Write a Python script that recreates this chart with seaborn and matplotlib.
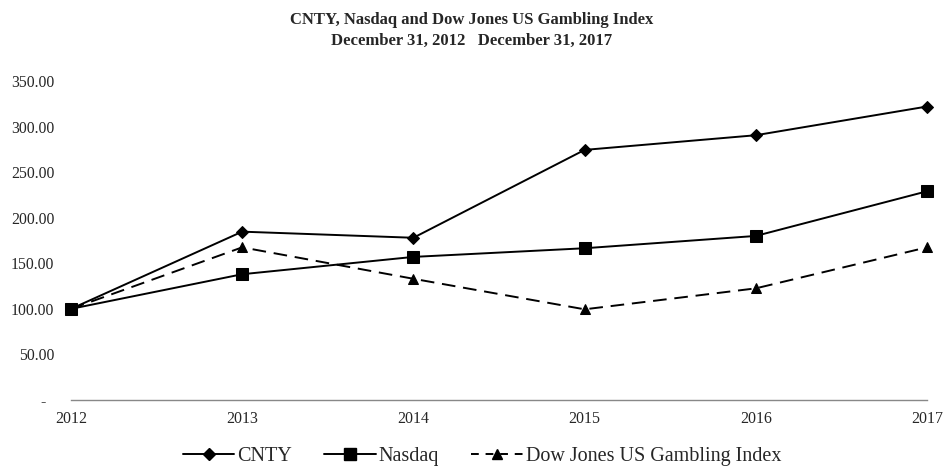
import matplotlib
matplotlib.use("Agg")
import matplotlib.pyplot as plt
import seaborn as sns
import pandas as pd
from matplotlib.lines import Line2D

years = [2012, 2013, 2014, 2015, 2016, 2017]
cnty = [100.0, 184.7, 178.0, 274.4, 290.5, 322.0]
nasdaq = [100.0, 138.0, 157.0, 166.5, 180.0, 229.0]
dow_gambling = [100.0, 167.5, 133.0, 99.5, 122.5, 167.5]
series_names = ["CNTY", "Nasdaq", "Dow Jones US Gambling Index"]
y_ticks = [0, 50, 100, 150, 200, 250, 300, 350]
y_tick_labels = ["-  ", "50.00", "100.00", "150.00", "200.00", "250.00", "300.00", "350.00"]

df = pd.DataFrame({
    "year": years * 3,
    "value": cnty + nasdaq + dow_gambling,
    "series": [series_names[0]] * 6 + [series_names[1]] * 6 + [series_names[2]] * 6,
})

sns.set_theme(style="white")
plt.rcParams["font.family"] = ["Liberation Serif", "DejaVu Serif"]

fig = plt.figure(figsize=(9.43, 4.68), dpi=100)
ax = fig.add_axes([71 / 943, 1 - 400 / 468, (927 - 71) / 943, (400 - 81) / 468])

markers = {series_names[0]: "D", series_names[1]: "s", series_names[2]: "^"}
msizes = {series_names[0]: 6, series_names[1]: 8, series_names[2]: 7.5}

for name in series_names:
    sub = df[df["series"] == name]
    is_dash = name == series_names[2]
    sns.lineplot(data=sub, x="year", y="value", ax=ax, color="black",
                 marker=markers[name], markersize=msizes[name],
                 markeredgecolor="black", markerfacecolor="black",
                 linewidth=1.4, legend=False,
                 linestyle=(0, (7, 4)) if is_dash else "-",
                 clip_on=False, zorder=3)

ax.set_xlim(2012, 2017)
ax.set_ylim(0, 350)
ax.set_xticks(years)
ax.set_xticklabels([str(y) for y in years], fontsize=11.5)
ax.set_yticks(y_ticks)
ax.set_yticklabels(y_tick_labels, fontsize=11.3)
ax.tick_params(axis="both", length=0)
ax.tick_params(axis="y", pad=12)
ax.tick_params(axis="x", pad=8)
ax.set_xlabel("")
ax.set_ylabel("")
for s in ["top", "right", "left"]:
    ax.spines[s].set_visible(False)
ax.spines["bottom"].set_color("#888888")
ax.spines["bottom"].set_linewidth(1.0)
ax.grid(False)

fig.text(0.5, 1 - 20 / 468, "CNTY, Nasdaq and Dow Jones US Gambling Index",
         ha="center", va="center", fontsize=12, fontweight="bold")
fig.text(0.5, 1 - 41 / 468, "December 31, 2012   December 31, 2017",
         ha="center", va="center", fontsize=12, fontweight="bold")

handles = [
    Line2D([], [], color="black", marker="D", markersize=6, linewidth=1.4),
    Line2D([], [], color="black", marker="s", markersize=8, linewidth=1.4),
    Line2D([], [], color="black", marker="^", markersize=7.5, linewidth=1.4, linestyle=(0, (4, 3.5))),
]
fig.legend(handles, series_names, loc="center", bbox_to_anchor=(482 / 943, 1 - 456 / 468),
           ncol=3, frameon=False, fontsize=14.5, handlelength=2.55, handletextpad=0.15,
           columnspacing=1.6, borderpad=0)

fig.savefig("out.png", dpi=100)
